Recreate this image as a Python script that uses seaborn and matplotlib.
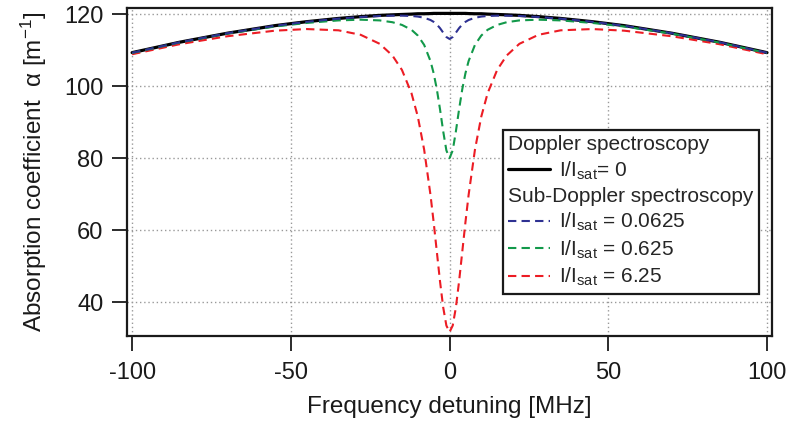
import matplotlib
matplotlib.use('Agg')
import matplotlib.pyplot as plt
import seaborn as sns
from matplotlib.lines import Line2D

# frequency detuning [MHz]
detuning = [-100, -85, -70, -55, -45, -35, -28, -22, -18, -15, -12, -10, -8, -6, -5, -4, -3, -2, -1, 0,
            1, 2, 3, 4, 5, 6, 8, 10, 12, 15, 18, 22, 28, 35, 45, 55, 70, 85, 100]

# absorption coefficient [1/m]
doppler = [109.3, 112.2, 114.7, 116.8, 117.9, 118.8, 119.3, 119.65, 119.8, 119.9, 120.0, 120.1, 120.1, 120.15,
           120.2, 120.2, 120.2, 120.2, 120.2, 120.2, 120.2, 120.2, 120.2, 120.2, 120.2, 120.15, 120.1, 120.1,
           120.0, 119.9, 119.8, 119.65, 119.3, 118.8, 117.9, 116.8, 114.7, 112.2, 109.3]
sat_00625 = [109.27, 112.2, 114.7, 116.76, 117.86, 118.74, 119.2, 119.47, 119.57, 119.57, 119.48, 119.32, 118.99,
             118.36, 117.84, 117.1, 116.1, 114.85, 113.64, 113.1, 113.64, 114.85, 116.1, 117.1, 117.84, 118.36,
             118.99, 119.32, 119.48, 119.57, 119.57, 119.47, 119.2, 118.74, 117.86, 116.76, 114.7, 112.2, 109.27]
sat_0625 = [109.2, 112.1, 114.6, 116.55, 117.55, 118.25, 118.45, 118.25, 117.75, 117.0, 115.65, 114.05, 111.45,
            106.95, 103.55, 99.1, 93.55, 87.45, 82.15, 80.0, 82.15, 87.45, 93.55, 99.1, 103.55, 106.95, 111.45,
            114.05, 115.65, 117.0, 117.75, 118.25, 118.45, 118.25, 117.55, 116.55, 114.6, 112.1, 109.2]
sat_625 = [108.85, 111.65, 113.85, 115.4, 115.85, 115.5, 114.25, 111.75, 108.5, 104.5, 98.05, 91.55, 82.35,
           69.75, 62.15, 53.95, 45.75, 38.55, 33.5, 31.7, 33.5, 38.55, 45.75, 53.95, 62.15, 69.75, 82.35, 91.55,
           98.05, 104.5, 108.5, 111.75, 114.25, 115.5, 115.85, 115.4, 113.85, 111.65, 108.85]

sns.set_style('ticks')
plt.rcParams['font.family'] = ['Liberation Sans', 'DejaVu Sans']
plt.rcParams['mathtext.default'] = 'regular'

fig = plt.figure(figsize=(7.9, 4.25), dpi=100)
ax = fig.add_axes([0.1608, 0.2094, 0.8165, 0.7718])

blue = '#2e3192'
green = '#12994a'
red = '#ec1c24'
dash = (0, (4, 2.5))

sns.lineplot(x=detuning, y=doppler, ax=ax, color='black', lw=2.3, zorder=3)
sns.lineplot(x=detuning, y=sat_625, ax=ax, color=red, lw=1.5, linestyle=dash, zorder=4)
sns.lineplot(x=detuning, y=sat_0625, ax=ax, color=green, lw=1.5, linestyle=dash, zorder=4)
sns.lineplot(x=detuning, y=sat_00625, ax=ax, color=blue, lw=1.5, linestyle=dash, zorder=5)

ax.set_xlim(-101.6, 101.6)
ax.set_ylim(30.6, 121.7)
ax.set_xticks([-100, -50, 0, 50, 100])
ax.set_xticklabels(['-100', '-50', '0', '50', '100'])
ax.set_yticks([40, 60, 80, 100, 120])
ax.grid(True, color='#999999', lw=1, linestyle=(0, (1, 2)))
for s in ax.spines.values():
    s.set_linewidth(1.6)
    s.set_color('#1a1a1a')
ax.tick_params(axis='both', direction='out', length=11, width=1.3, color='#1a1a1a',
               labelsize=17, labelcolor='#1a1a1a')
ax.tick_params(axis='x', pad=8)
ax.tick_params(axis='y', pad=6)

ax.set_xlabel('Frequency detuning [MHz]', fontsize=17.5, color='#1a1a1a', labelpad=8)
ax.set_ylabel('Absorption coefficient  α [m$^{-1}$]', fontsize=17.5, color='#1a1a1a', labelpad=11)

handles = [Line2D([], [], color='none'),
           Line2D([], [], color='black', lw=2.3),
           Line2D([], [], color='none'),
           Line2D([], [], color=blue, lw=1.5, linestyle=dash),
           Line2D([], [], color=green, lw=1.5, linestyle=dash),
           Line2D([], [], color=red, lw=1.5, linestyle=dash)]
headers = ['Doppler spectroscopy', 'Sub-Doppler spectroscopy']
labels = [headers[0], 'I/I$_{sat}$= 0', headers[1],
          'I/I$_{sat}$ = 0.0625', 'I/I$_{sat}$ = 0.625', 'I/I$_{sat}$ = 6.25']
leg = ax.legend(handles, labels, loc='upper right', bbox_to_anchor=(0.9608, 0.6941),
                bbox_transform=fig.transFigure, borderaxespad=0, fontsize=15, frameon=True,
                fancybox=False, framealpha=1, edgecolor='#1a1a1a', handlelength=2.0,
                handletextpad=0.45, labelspacing=0.25, borderpad=0.25)
leg.get_frame().set_linewidth(1.6)
for col in leg._legend_handle_box.get_children():
    for row in col.get_children():
        da, ta = row.get_children()
        if ta.get_text() in headers:
            da.width = -6.5

fig.savefig('out.png', dpi=100)
